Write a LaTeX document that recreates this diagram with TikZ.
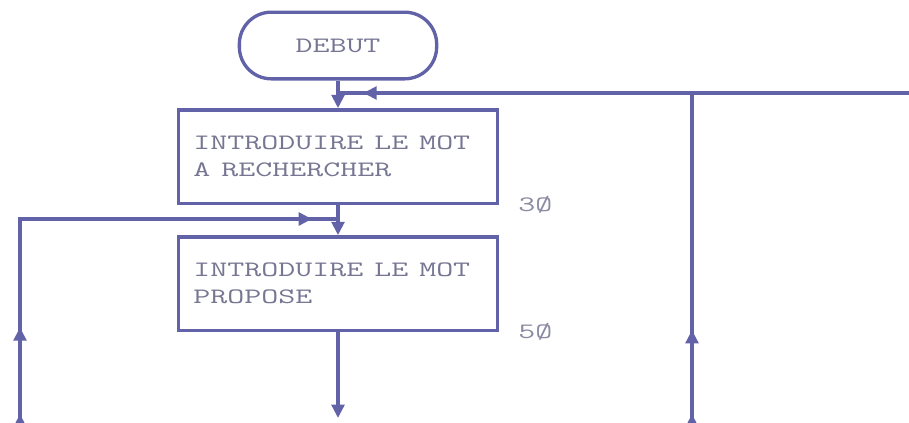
\documentclass[tikz,border=0pt]{standalone}
\usepackage{fontspec}
\usepackage{graphicx}
\usepackage{tikz}
\usetikzlibrary{arrows.meta,positioning,calc,decorations.markings}
\definecolor{flowblue}{RGB}{98,98,168}
\definecolor{inkgray}{RGB}{118,118,146}
\newcommand\stretchtext[1]{\scalebox{1.5}[1]{#1}}

\tikzset{
  flow/.style={draw=flowblue, line width=2.5pt},
  flowtip/.tip={Triangle[length=10pt,width=9.5pt]},
  tip/.style={-{flowtip}},
  arrowat/.style={postaction={decorate,decoration={markings,
      mark=at position #1 with {\arrow[flowblue]{flowtip}}}}},
  box/.style={draw=flowblue, line width=2.5pt, text=inkgray,
      font=\ttfamily\fontsize{16.5}{20}\selectfont, align=left,
      text width=217pt, inner xsep=11pt, minimum height=70pt},
  debutbox/.style={draw=flowblue, line width=2.5pt, text=inkgray,
      font=\ttfamily\fontsize{16.5}{20}\selectfont, rounded corners=24pt,
      minimum width=148pt, minimum height=50pt},
  numlabel/.style={text=inkgray!85, font=\ttfamily\fontsize{16.5}{20}\selectfont, anchor=west}
}

\begin{document}
\begin{tikzpicture}[x=0.75pt,y=-0.75pt]
  \useasboundingbox (0,0) rectangle (909,422);
  % blocs
  \node[debutbox] (debut) at (338,45.5) {\stretchtext{DEBUT}};
  \node[box] (mot) at (338,156.5)
    {\stretchtext{INTRODUIRE LE MOT}\\\stretchtext{A RECHERCHER}};
  \node[box] (propose) at (338,283.5)
    {\stretchtext{INTRODUIRE LE MOT}\\\stretchtext{PROPOSE}};
  \node[numlabel] (n30) at ([xshift=11pt]mot.south east) {\stretchtext{3Ø}};
  \node[numlabel] (n50) at ([xshift=11pt]propose.south east) {\stretchtext{5Ø}};
  % points de jonction
  \coordinate (retour) at (909,93);
  \coordinate (haut) at (mot.north |- retour);
  \coordinate (colonne) at (692,422);
  \coordinate (gauche) at (20,422);
  \coordinate (coin) at (20,219);
  \coordinate (milieu) at (mot.south |- coin);
  \coordinate (sortie) at (propose.south |- gauche);
  % liaisons
  \draw[flow,tip] (debut.south) -- (mot.north);
  \draw[flow,arrowat=-19pt] (retour) -- (haut);
  \draw[flow,arrowat=6pt,arrowat=69pt] (colonne) -- (colonne |- retour);
  \draw[flow,tip] (mot.south) -- (propose.north);
  \draw[flow,arrowat=6pt,arrowat=71pt,arrowat=-19.5pt] (gauche) -- (coin) -- (milieu);
  \draw[flow,tip,shorten >=3pt] (propose.south) -- (sortie);
\end{tikzpicture}
\end{document}
